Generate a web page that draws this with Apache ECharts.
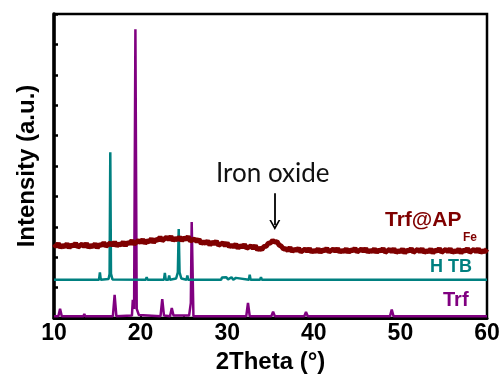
<!DOCTYPE html>
<html>
<head>
<meta charset="utf-8">
<script src="https://cdn.jsdelivr.net/npm/echarts@6/dist/echarts.min.js"></script>
<style>
  html, body { margin: 0; padding: 0; background: #fff; }
  #xrd-chart { width: 500px; height: 374px; }
</style>
</head>
<body>
<div id="xrd-chart"></div>
<script>
// Trf@APFe scan, one value every 0.25 deg from 10 to 60
const apStart = 10;
const apStep = 0.25;
const apIntensity = [
  2.43, 2.35, 2.45, 2.32, 2.39, 2.34, 2.44, 2.31, 2.41, 2.36,
  2.46, 2.33, 2.38, 2.43, 2.35, 2.45, 2.32, 2.39, 2.34, 2.44,
  2.31, 2.42, 2.38, 2.48, 2.36, 2.41, 2.47, 2.39, 2.50, 2.37,
  2.44, 2.40, 2.50, 2.38, 2.49, 2.44, 2.55, 2.43, 2.49, 2.55,
  2.48, 2.58, 2.46, 2.54, 2.50, 2.61, 2.48, 2.59, 2.55, 2.66,
  2.54, 2.60, 2.66, 2.58, 2.68, 2.55, 2.62, 2.57, 2.67, 2.54,
  2.64, 2.58, 2.68, 2.53, 2.57, 2.60, 2.51, 2.59, 2.45, 2.51,
  2.45, 2.54, 2.40, 2.50, 2.44, 2.53, 2.39, 2.43, 2.47, 2.38,
  2.47, 2.34, 2.40, 2.34, 2.43, 2.29, 2.39, 2.33, 2.42, 2.29,
  2.33, 2.37, 2.29, 2.38, 2.24, 2.30, 2.25, 2.35, 2.36, 2.46,
  2.47, 2.55, 2.50, 2.51, 2.40, 2.36, 2.27, 2.28, 2.22, 2.32,
  2.18, 2.27, 2.22, 2.30, 2.17, 2.22, 2.27, 2.19, 2.29, 2.16,
  2.23, 2.18, 2.28, 2.15, 2.25, 2.20, 2.30, 2.17, 2.22, 2.27,
  2.19, 2.29, 2.16, 2.23, 2.18, 2.28, 2.15, 2.25, 2.20, 2.30,
  2.17, 2.22, 2.27, 2.19, 2.29, 2.16, 2.23, 2.18, 2.28, 2.15,
  2.25, 2.19, 2.29, 2.16, 2.21, 2.26, 2.18, 2.28, 2.15, 2.22,
  2.17, 2.27, 2.14, 2.24, 2.19, 2.29, 2.16, 2.21, 2.26, 2.18,
  2.28, 2.15, 2.22, 2.17, 2.27, 2.14, 2.24, 2.19, 2.29, 2.16,
  2.21, 2.26, 2.18, 2.28, 2.15, 2.22, 2.17, 2.27, 2.14, 2.24,
  2.19, 2.29, 2.16, 2.21, 2.26, 2.18, 2.28, 2.15, 2.22, 2.17,
  2.27
];

// HTB pattern (offset upward)
const htbTheta = [
  10, 15.2, 15.3, 15.4, 16.3, 16.42, 16.5, 16.58, 16.75,
  20.6, 20.7, 20.8, 22.7, 22.8, 22.9, 23.2, 23.3, 23.4,
  24.1, 24.3, 24.4, 24.5, 24.7, 25.3, 25.4, 25.5,
  29.3, 29.4, 29.6, 29.9, 30.1, 30.5, 30.7, 31.0, 31.2,
  32.5, 32.6, 32.7, 33.8, 33.9, 34.0, 37.0, 37.1, 37.2,
  45.0, 45.1, 45.2, 60
];
const htbIntensity = [
  1.26, 1.26, 1.50, 1.26, 1.28, 1.45, 5.45, 1.45, 1.27,
  1.26, 1.34, 1.26, 1.26, 1.48, 1.26, 1.26, 1.40, 1.26,
  1.30, 1.50, 2.93, 1.50, 1.30, 1.26, 1.40, 1.26,
  1.26, 1.33, 1.30, 1.34, 1.27, 1.34, 1.26, 1.32, 1.26,
  1.26, 1.42, 1.26, 1.26, 1.34, 1.26, 1.26, 1.31, 1.26,
  1.26, 1.31, 1.26, 1.26
];

// Trf pattern (bottom)
const trfTheta = [
  10, 10.5, 10.7, 10.9, 13.4, 13.5, 13.6, 16.8, 17.0, 17.2,
  19.0, 19.1, 19.25, 19.4, 19.55, 19.8, 22.3, 22.5, 22.7,
  23.4, 23.6, 23.8, 25.6, 25.8, 25.9, 26.1, 32.2, 32.4, 32.6,
  35.1, 35.3, 35.5, 38.9, 39.1, 39.3, 48.8, 49.0, 49.2, 60
];
const trfIntensity = [
  0.06, 0.06, 0.30, 0.06, 0.06, 0.13, 0.06, 0.06, 0.76, 0.06,
  0.08, 0.60, 0.30, 9.50, 0.30, 0.10, 0.06, 0.62, 0.08,
  0.06, 0.33, 0.08, 0.08, 0.50, 3.16, 0.06, 0.06, 0.50, 0.06,
  0.06, 0.21, 0.06, 0.06, 0.20, 0.06, 0.06, 0.28, 0.06, 0.06
];

const ironOxideArrow = [[35.5, 4.1], [35.5, 3.06]];

function pairs(xs, ys) {
  return xs.map((x, i) => [x, ys[i]]);
}

var chartDom = document.getElementById('xrd-chart');
var myChart = echarts.init(chartDom);
var option;

var apData = apIntensity.map((v, i) => [apStart + apStep * i, v]);
var boldFont = 'Liberation Sans, Arial, sans-serif';

option = {
  animation: false,
  grid: {
    left: 54, right: 13, top: 14, bottom: 56,
    outerBoundsMode: 'none',
    show: true, borderColor: '#000', borderWidth: 2.5
  },
  xAxis: {
    type: 'value',
    min: 10, max: 60, interval: 10,
    name: '2Theta (°)',
    nameLocation: 'middle',
    nameGap: 30,
    nameTextStyle: { fontFamily: boldFont, fontWeight: 'bold', fontSize: 24, color: '#000' },
    axisLine: { lineStyle: { color: '#000', width: 3 } },
    axisTick: { inside: true, length: 3, lineStyle: { color: '#000', width: 2 } },
    minorTick: { show: true, splitNumber: 2, length: 3, lineStyle: { color: '#000', width: 2 } },
    axisLabel: { fontFamily: boldFont, fontWeight: 'bold', fontSize: 23, color: '#000', margin: 4 },
    splitLine: { show: false }
  },
  yAxis: {
    type: 'value',
    min: 0, max: 10, interval: 1,
    name: 'Intensity (a.u.)',
    nameLocation: 'middle',
    nameGap: 15,
    nameTextStyle: { fontFamily: boldFont, fontWeight: 'bold', fontSize: 24, color: '#000' },
    axisLine: { show: true, lineStyle: { color: '#000', width: 3.5 } },
    axisTick: { show: true, inside: true, length: 4, lineStyle: { color: '#000', width: 2.5 } },
    axisLabel: { show: false },
    splitLine: { show: false }
  },
  series: [
    {
      name: 'Trf',
      type: 'line',
      data: pairs(trfTheta, trfIntensity),
      showSymbol: false,
      lineStyle: { color: '#800080', width: 2.5 },
      z: 2
    },
    {
      name: 'HTB',
      type: 'line',
      data: pairs(htbTheta, htbIntensity),
      showSymbol: false,
      lineStyle: { color: '#008080', width: 2.5 },
      z: 3
    },
    {
      name: 'Trf@APFe',
      type: 'line',
      data: apData,
      showSymbol: false,
      lineStyle: { color: '#7f0000', width: 5 },
      z: 4,
      markLine: {
        silent: true,
        symbol: ['none', 'path://M0,10L5,0L10,10L8.4,10L5,3.4L1.6,10Z'],
        symbolSize: [11, 10],
        label: { show: false },
        lineStyle: { color: '#000', width: 1.8, type: 'solid' },
        data: [[
          { coord: ironOxideArrow[0] },
          { coord: ironOxideArrow[1] }
        ]]
      }
    }
  ],
  graphic: [
    {
      type: 'text', left: 216, top: 161,
      style: { text: 'Iron oxide', font: '26px Lato, sans-serif', fill: '#111' }
    },
    {
      type: 'text', left: 385, top: 210,
      style: { text: 'Trf@AP', font: 'bold 21px ' + boldFont, fill: '#7f0000' }
    },
    {
      type: 'text', left: 463, top: 232,
      style: { text: 'Fe', font: 'bold 12px ' + boldFont, fill: '#7f0000' }
    },
    {
      type: 'text', left: 430, top: 258,
      style: { text: 'H TB', font: 'bold 18px ' + boldFont, fill: '#008080' }
    },
    {
      type: 'text', left: 443, top: 290,
      style: { text: 'Trf', font: 'bold 20px ' + boldFont, fill: '#800080' }
    }
  ]
};

option && myChart.setOption(option);
</script>
</body>
</html>
